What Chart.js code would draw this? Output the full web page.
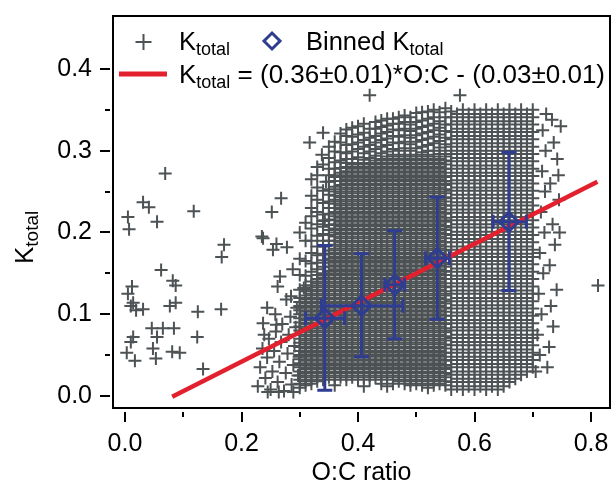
<!DOCTYPE html>
<html>
<head>
<meta charset="utf-8">
<script src="https://cdn.jsdelivr.net/npm/chart.js@4.4.1/dist/chart.umd.min.js"></script>
<style>
  html, body { margin: 0; padding: 0; background: #fff; }
  #wrap { width: 613px; height: 485px; position: relative; }
</style>
</head>
<body>
<div id="wrap"><canvas id="kChart"></canvas></div>
<script>
// dense part of the cloud: O:C column -> K_total values measured there
const ocCols = [.30, .31, .32, .33, .34, .35, .36, .37, .38, .39, .40, .41, .42, .43, .44, .45, .46, .47, .48, .49,
  .50, .51, .52, .53, .54, .55, .56, .57, .58, .59, .60, .61, .62, .63, .64, .65, .66, .67, .68, .69, .70];
const kCols = [
  [.01,.015,.02,.025,.03,.035,.04,.045,.05,.055,.06,.065,.07,.075,.08,.085,.09,.095,.1,.105,.11,.115,.12,.13,.148,.168,.2],
  [.013,.018,.023,.028,.033,.038,.043,.048,.053,.058,.063,.068,.073,.078,.083,.088,.093,.098,.103,.108,.113,.118,.123,.128,.135,.147,.165,.19,.212],
  [.015,.02,.025,.03,.035,.04,.045,.05,.055,.06,.065,.07,.075,.08,.085,.09,.095,.1,.105,.11,.115,.12,.125,.13,.135,.14,.152,.162,.175,.19,.205,.22,.245],
  [.018,.023,.028,.033,.038,.043,.048,.053,.058,.063,.068,.073,.078,.083,.088,.093,.098,.103,.108,.113,.118,.123,.128,.133,.138,.143,.148,.155,.163,.172,.183,.196,.21,.225,.24,.255,.28],
  [.02,.025,.03,.035,.04,.045,.05,.055,.06,.065,.07,.075,.08,.085,.09,.095,.1,.105,.11,.115,.12,.125,.13,.135,.14,.145,.15,.158,.166,.174,.183,.19,.198,.207,.214,.222,.236,.251,.283,.322],
  [.023,.028,.033,.038,.043,.048,.053,.058,.063,.068,.073,.078,.083,.088,.093,.098,.103,.108,.113,.118,.123,.128,.133,.138,.143,.148,.153,.158,.163,.168,.173,.178,.184,.19,.197,.203,.209,.216,.223,.23,.238,.246,.253,.262,.27,.278,.291,.305],
  [.013,.02,.025,.03,.035,.04,.045,.05,.055,.06,.065,.07,.075,.08,.085,.09,.095,.1,.105,.11,.115,.12,.125,.13,.135,.14,.145,.15,.155,.16,.165,.17,.175,.18,.185,.19,.195,.2,.205,.21,.215,.22,.225,.23,.235,.24,.245,.25,.256,.263,.27,.278,.286,.299,.311],
  [.023,.028,.033,.038,.043,.048,.053,.058,.063,.068,.073,.078,.083,.088,.093,.098,.103,.108,.113,.118,.123,.128,.133,.138,.143,.148,.153,.158,.163,.168,.173,.178,.183,.188,.193,.198,.203,.208,.213,.218,.223,.228,.233,.238,.243,.248,.253,.258,.263,.268,.273,.279,.288,.298,.31,.321],
  [.02,.025,.03,.035,.04,.045,.05,.055,.06,.065,.07,.075,.08,.085,.09,.095,.1,.105,.11,.115,.12,.125,.13,.135,.14,.145,.15,.155,.16,.165,.17,.175,.18,.185,.19,.195,.2,.205,.21,.215,.22,.225,.23,.235,.24,.245,.25,.255,.26,.265,.27,.275,.28,.285,.29,.297,.307,.318,.326],
  [.023,.028,.033,.038,.043,.048,.053,.058,.063,.068,.073,.078,.083,.088,.093,.098,.103,.108,.113,.118,.123,.128,.133,.138,.143,.148,.153,.158,.163,.168,.173,.178,.183,.188,.193,.198,.203,.208,.213,.218,.223,.228,.233,.238,.243,.248,.253,.258,.263,.268,.273,.278,.283,.29,.299,.308,.317,.328],
  [.02,.025,.03,.035,.04,.045,.05,.055,.06,.065,.07,.075,.08,.085,.09,.095,.1,.105,.11,.115,.12,.125,.13,.135,.14,.145,.15,.155,.16,.165,.17,.175,.18,.185,.19,.195,.2,.205,.21,.215,.22,.225,.23,.235,.24,.245,.25,.255,.26,.265,.27,.275,.28,.285,.292,.302,.31,.32,.33],
  [.012,.023,.028,.033,.038,.043,.048,.053,.058,.063,.068,.073,.078,.083,.088,.093,.098,.103,.108,.113,.118,.123,.128,.133,.138,.143,.148,.153,.158,.163,.168,.173,.178,.183,.188,.193,.198,.203,.208,.213,.218,.223,.228,.233,.238,.243,.248,.253,.258,.263,.268,.273,.278,.283,.289,.297,.305,.313,.322,.333],
  [.02,.025,.03,.035,.04,.045,.05,.055,.06,.065,.07,.075,.08,.085,.09,.095,.1,.105,.11,.115,.12,.125,.13,.135,.14,.145,.15,.155,.16,.165,.17,.175,.18,.185,.19,.195,.2,.205,.21,.215,.22,.225,.23,.235,.24,.245,.25,.255,.26,.265,.27,.275,.28,.285,.291,.299,.307,.316,.327],
  [.023,.028,.033,.038,.043,.048,.053,.058,.063,.068,.073,.078,.083,.088,.093,.098,.103,.108,.113,.118,.123,.128,.133,.138,.143,.148,.153,.158,.163,.168,.173,.178,.183,.188,.193,.198,.203,.208,.213,.218,.223,.228,.233,.238,.243,.248,.253,.258,.263,.268,.273,.278,.283,.288,.294,.302,.31,.318,.327,.335],
  [.015,.02,.025,.03,.035,.04,.045,.05,.055,.06,.065,.07,.075,.08,.085,.09,.095,.1,.105,.11,.115,.12,.125,.13,.135,.14,.145,.15,.155,.16,.165,.17,.175,.18,.185,.19,.195,.2,.205,.21,.215,.22,.225,.23,.235,.24,.245,.25,.255,.26,.265,.27,.275,.28,.285,.29,.297,.305,.313,.321,.329,.337],
  [.012,.023,.028,.033,.038,.043,.048,.053,.058,.063,.068,.073,.078,.083,.088,.093,.098,.103,.108,.113,.118,.123,.128,.133,.138,.143,.148,.153,.158,.163,.168,.173,.178,.183,.188,.193,.198,.203,.208,.213,.218,.223,.228,.233,.238,.243,.248,.253,.258,.263,.268,.273,.278,.283,.288,.293,.299,.307,.315,.323,.331,.339],
  [.015,.02,.025,.03,.035,.04,.045,.05,.055,.06,.065,.07,.075,.08,.085,.09,.095,.1,.105,.11,.115,.12,.125,.13,.135,.14,.145,.15,.155,.16,.165,.17,.175,.18,.185,.19,.195,.2,.205,.21,.215,.22,.225,.23,.235,.24,.245,.25,.255,.26,.265,.27,.275,.28,.285,.29,.295,.302,.31,.318,.326,.333,.339],
  [.018,.023,.028,.033,.038,.043,.048,.053,.058,.063,.068,.073,.078,.083,.088,.093,.098,.103,.108,.113,.118,.123,.128,.133,.138,.143,.148,.153,.158,.163,.168,.173,.178,.183,.188,.193,.198,.203,.208,.213,.218,.223,.228,.233,.238,.243,.248,.253,.258,.263,.268,.273,.278,.283,.288,.293,.3,.309,.317,.325,.333,.341],
  [.015,.02,.025,.03,.035,.04,.045,.05,.055,.06,.065,.07,.075,.08,.085,.09,.095,.1,.105,.11,.115,.12,.125,.13,.135,.14,.145,.15,.155,.16,.165,.17,.175,.18,.185,.19,.195,.2,.205,.21,.215,.22,.225,.23,.235,.24,.245,.25,.255,.26,.265,.27,.275,.28,.285,.29,.295,.303,.311,.319,.327,.335,.343],
  [.013,.018,.023,.028,.033,.038,.043,.048,.053,.058,.063,.068,.073,.078,.083,.088,.093,.098,.103,.108,.113,.118,.123,.128,.133,.138,.143,.148,.153,.158,.163,.168,.173,.178,.183,.188,.193,.198,.203,.208,.213,.218,.223,.228,.233,.238,.243,.248,.253,.258,.263,.268,.273,.278,.283,.288,.293,.3,.308,.316,.324,.332,.341],
  [.015,.02,.025,.03,.035,.04,.045,.05,.055,.06,.065,.07,.075,.08,.085,.09,.095,.1,.105,.11,.115,.12,.125,.13,.135,.14,.145,.15,.155,.16,.165,.17,.175,.18,.185,.19,.195,.2,.205,.21,.215,.22,.225,.23,.235,.24,.245,.25,.255,.26,.265,.27,.275,.28,.285,.29,.295,.303,.311,.319,.327,.335,.346],
  [.013,.018,.023,.028,.033,.038,.043,.048,.053,.058,.063,.068,.073,.078,.083,.088,.093,.098,.103,.108,.113,.118,.123,.128,.133,.138,.143,.148,.153,.158,.163,.168,.173,.178,.183,.188,.193,.198,.203,.208,.213,.218,.223,.228,.233,.238,.243,.248,.253,.258,.263,.268,.273,.278,.283,.288,.293,.298,.305,.313,.321,.329,.337,.347],
  [.01,.015,.02,.025,.03,.035,.04,.045,.05,.055,.06,.065,.07,.075,.08,.085,.09,.095,.1,.105,.11,.115,.12,.125,.13,.135,.14,.145,.15,.155,.16,.165,.17,.175,.18,.185,.19,.195,.2,.205,.21,.215,.22,.225,.23,.235,.24,.245,.25,.255,.26,.265,.27,.275,.28,.285,.29,.295,.3,.307,.315,.323,.331,.339,.348],
  [.013,.018,.023,.028,.033,.038,.043,.048,.053,.058,.063,.068,.073,.078,.083,.088,.093,.098,.103,.108,.113,.118,.123,.128,.133,.138,.143,.148,.153,.158,.163,.168,.173,.178,.183,.188,.193,.198,.203,.208,.213,.218,.223,.228,.233,.238,.243,.248,.253,.258,.263,.268,.273,.278,.283,.288,.293,.3,.309,.317,.325,.333,.341,.35],
  [.015,.02,.025,.03,.035,.04,.045,.05,.055,.06,.065,.07,.075,.08,.085,.09,.095,.1,.105,.11,.115,.12,.125,.13,.135,.14,.145,.15,.155,.16,.165,.17,.175,.18,.185,.19,.195,.2,.205,.21,.215,.22,.225,.23,.235,.24,.245,.25,.255,.26,.265,.27,.275,.28,.285,.29,.296,.304,.312,.32,.328,.336,.347],
  [.013,.018,.023,.028,.033,.038,.043,.048,.053,.058,.063,.068,.073,.078,.083,.088,.093,.098,.103,.108,.113,.118,.123,.128,.133,.138,.143,.148,.153,.158,.163,.168,.173,.178,.183,.188,.193,.198,.203,.208,.213,.218,.223,.228,.233,.238,.243,.248,.253,.258,.263,.268,.273,.278,.283,.288,.293,.3,.308,.316,.324,.332,.341,.352],
  [.008,.017,.026,.035,.044,.053,.062,.071,.08,.089,.098,.107,.116,.125,.134,.143,.152,.161,.17,.179,.188,.197,.206,.215,.224,.233,.242,.251,.26,.269,.278,.287,.296,.305,.314,.323,.332,.341,.348],
  [.012,.021,.03,.039,.048,.057,.066,.075,.084,.093,.102,.111,.12,.129,.138,.147,.156,.165,.174,.183,.192,.201,.21,.219,.228,.237,.246,.255,.264,.273,.282,.291,.3,.309,.318,.327,.336,.345],
  [.008,.017,.026,.035,.044,.053,.062,.071,.08,.089,.098,.107,.116,.125,.134,.143,.152,.161,.17,.179,.188,.197,.206,.215,.224,.233,.242,.251,.26,.269,.278,.287,.296,.305,.314,.323,.332,.341,.35],
  [.012,.021,.03,.039,.048,.057,.066,.075,.084,.093,.102,.111,.12,.129,.138,.147,.156,.165,.174,.183,.192,.201,.21,.219,.228,.237,.246,.255,.264,.273,.282,.291,.3,.309,.318,.327,.336,.345],
  [.008,.017,.026,.035,.044,.053,.062,.071,.08,.089,.098,.107,.116,.125,.134,.143,.152,.161,.17,.179,.188,.197,.206,.215,.224,.233,.242,.251,.26,.269,.278,.287,.296,.305,.314,.323,.332,.341,.35],
  [.012,.021,.03,.039,.048,.057,.066,.075,.084,.093,.102,.111,.12,.129,.138,.147,.156,.165,.174,.183,.192,.201,.21,.219,.228,.237,.246,.255,.264,.273,.282,.291,.3,.309,.318,.327,.336,.345],
  [.008,.017,.026,.035,.044,.053,.062,.071,.08,.089,.098,.107,.116,.125,.134,.143,.152,.161,.17,.179,.188,.197,.206,.215,.224,.233,.242,.251,.26,.269,.278,.287,.296,.305,.314,.323,.332,.341,.35],
  [.012,.021,.03,.039,.048,.057,.066,.075,.084,.093,.102,.111,.12,.129,.138,.147,.156,.165,.174,.183,.192,.201,.21,.219,.228,.237,.246,.255,.264,.273,.282,.291,.3,.309,.318,.327,.336,.345],
  [.008,.017,.026,.035,.044,.053,.062,.071,.08,.089,.098,.107,.116,.125,.134,.143,.152,.161,.17,.179,.188,.197,.206,.215,.224,.233,.242,.251,.26,.269,.278,.287,.296,.305,.314,.323,.332,.341,.35],
  [.012,.021,.03,.039,.048,.057,.066,.075,.084,.093,.102,.111,.12,.129,.138,.147,.156,.165,.174,.183,.192,.201,.21,.219,.228,.237,.246,.255,.264,.273,.282,.291,.3,.309,.318,.327,.336,.345],
  [.017,.026,.035,.044,.053,.062,.071,.08,.089,.098,.107,.116,.125,.134,.143,.152,.161,.17,.179,.188,.197,.206,.215,.224,.233,.242,.251,.26,.269,.278,.287,.296,.305,.314,.323,.332,.341,.35],
  [.021,.03,.039,.048,.057,.066,.075,.084,.093,.102,.111,.12,.129,.138,.147,.156,.165,.174,.183,.192,.201,.21,.219,.228,.237,.246,.255,.264,.273,.282,.291,.3,.309,.318,.327,.336,.345],
  [.026,.035,.044,.053,.062,.071,.08,.089,.098,.107,.116,.125,.134,.143,.152,.161,.17,.179,.188,.197,.206,.215,.224,.233,.242,.251,.26,.269,.278,.287,.296,.305,.314,.323,.332,.341,.35],
  [.03,.039,.048,.057,.066,.075,.084,.093,.102,.111,.12,.129,.138,.147,.156,.165,.174,.183,.192,.201,.21,.219,.228,.237,.246,.255,.264,.273,.282,.291,.3,.309,.318,.327,.336,.345],
  [.035,.044,.053,.062,.071,.08,.089,.098,.107,.116,.125,.134,.143,.152,.161,.17,.179,.188,.197,.206,.215,.224,.233,.242,.251,.26,.269,.278,.287,.296,.305,.314,.323,.332,.341,.35]
];
// single measurements around the edges of the cloud: [O:C, K_total]
const loosePts = [
  [.005,.219],[.007,.204],[.031,.237],[.041,.231],[.055,.213],[.069,.272],[.118,.226],[.17,.185],[.166,.17],
  [.062,.154],[.082,.141],[.087,.135],[.012,.134],[.005,.125],[.01,.11],[.019,.105],[.031,.106],[.014,.114],
  [.077,.11],[.087,.114],[.125,.103],[.165,.106],[.046,.083],[.065,.083],[.084,.083],[.014,.072],[.055,.072],
  [.124,.072],[.01,.066],[.048,.058],[.003,.053],[.081,.054],[.094,.053],[.017,.043],[.053,.046],[.134,.033],
  [.252,.225],[.268,.242],[.237,.193],[.26,.186],[.278,.182],[.254,.179],[.244,.108],[.237,.089],[.26,.087],
  [.266,.146],[.288,.155],[.262,.134],[.307,.132],[.317,.31],[.338,.295],[.32,.265],[.33,.27],[.345,.262],
  [.36,.268],[.32,.23],[.343,.215],[.235,.195],[.42,.368],[.575,.368],[.812,.135],
  [.228,.012],[.232,.035],[.236,.058],[.241,.022],[.244,.047],[.247,.07],[.25,.008],[.253,.03],[.256,.055],
  [.259,.079],[.262,.017],[.265,.042],[.268,.066],[.27,.088],[.273,.006],[.276,.028],[.279,.052],[.281,.075],
  [.284,.097],[.286,.014],[.289,.038],[.291,.061],[.293,.084],[.295,.108],[.297,.025],[.299,.048],[.277,.118],
  [.285,.122],[.239,.075],[.258,.1],[.289,.005],[.264,.005],[.245,.005],
  [.705,.03],[.712,.05],[.708,.075],[.715,.1],[.71,.125],[.718,.15],[.712,.175],[.72,.2],[.714,.225],
  [.721,.25],[.716,.275],[.722,.3],[.717,.325],[.723,.345],[.728,.06],[.731,.11],[.729,.16],[.734,.21],
  [.73,.26],[.736,.31],[.733,.338],[.741,.13],[.745,.24],[.742,.29],[.748,.33],[.738,.185],[.725,.035],
  [.735,.085],[.746,.2],[.744,.27]
];

// binned means with spread in both directions
const binOC = [0.343, 0.406, 0.463, 0.536, 0.659];
const binK = [0.095, 0.1105, 0.136, 0.1685, 0.213];
const binOCLo = [0.31, 0.337, 0.446, 0.516, 0.632];
const binOCHi = [0.377, 0.477, 0.48, 0.557, 0.689];
const binKLo = [0.007, 0.048, 0.07, 0.094, 0.129];
const binKHi = [0.184, 0.174, 0.202, 0.243, 0.298];

// linear fit  K_total = slope * O:C + intercept
const fitSlope = 0.36;
const fitIntercept = -0.03;
const fitOC = [0.081, 0.811];

const xTicks = [0, 0.2, 0.4, 0.6, 0.8];
const xMinor = [0.1, 0.3, 0.5, 0.7];
const yTicks = [0, 0.1, 0.2, 0.3, 0.4];
const yMinor = [0.05, 0.15, 0.25, 0.35];

const GRAY = '#4d5254';
const BLUE = '#2f3d91';
const RED = '#e3202e';
const FONT = "'Liberation Sans', Arial, Helvetica, sans-serif";

const cloud = [];
ocCols.forEach((oc, i) => kCols[i].forEach(k => cloud.push({ x: oc, y: k })));
loosePts.forEach(p => cloud.push({ x: p[0], y: p[1] }));

const bins = binOC.map((oc, i) => ({ x: oc, y: binK[i] }));
const fitLine = fitOC.map(oc => ({ x: oc, y: fitSlope * oc + fitIntercept }));

// K + subscript "total" followed by optional plain text
function drawKTotal(ctx, x, y, big, small, prefix, rest) {
  ctx.font = big + 'px ' + FONT;
  ctx.fillText(prefix + 'K', x, y);
  x += ctx.measureText(prefix + 'K').width;
  ctx.font = small + 'px ' + FONT;
  ctx.fillText('total', x, y + 5);
  x += ctx.measureText('total').width;
  if (rest) {
    ctx.font = big + 'px ' + FONT;
    ctx.fillText(rest, x, y);
  }
}

const decorations = {
  id: 'decorations',
  afterDatasetsDraw(chart) {
    const ctx = chart.ctx;
    const xs = chart.scales.x, ys = chart.scales.y;
    ctx.save();
    ctx.strokeStyle = BLUE;
    ctx.lineWidth = 3;
    binOC.forEach((oc, i) => {
      const px = xs.getPixelForValue(oc), py = ys.getPixelForValue(binK[i]);
      const top = ys.getPixelForValue(binKHi[i]), bot = ys.getPixelForValue(binKLo[i]);
      const left = xs.getPixelForValue(binOCLo[i]), right = xs.getPixelForValue(binOCHi[i]);
      ctx.beginPath();
      ctx.moveTo(px, top); ctx.lineTo(px, bot);
      ctx.moveTo(px - 7.5, top); ctx.lineTo(px + 7.5, top);
      ctx.moveTo(px - 7.5, bot); ctx.lineTo(px + 7.5, bot);
      ctx.moveTo(left, py); ctx.lineTo(right, py);
      ctx.moveTo(left, py - 7); ctx.lineTo(left, py + 7);
      ctx.moveTo(right, py - 7); ctx.lineTo(right, py + 7);
      ctx.stroke();
    });
    ctx.restore();
  },
  afterDraw(chart) {
    const ctx = chart.ctx;
    const a = chart.chartArea;
    const xs = chart.scales.x, ys = chart.scales.y;
    ctx.save();
    // frame
    ctx.strokeStyle = '#000';
    ctx.lineWidth = 2;
    ctx.strokeRect(a.left, a.top, a.right - a.left, a.bottom - a.top);
    // tick marks, set a little off the frame
    ctx.beginPath();
    xTicks.forEach(v => { const p = Math.round(xs.getPixelForValue(v)); ctx.moveTo(p, a.bottom + 4); ctx.lineTo(p, a.bottom + 14); });
    xMinor.forEach(v => { const p = Math.round(xs.getPixelForValue(v)); ctx.moveTo(p, a.bottom + 4); ctx.lineTo(p, a.bottom + 9); });
    yTicks.forEach(v => { const p = Math.round(ys.getPixelForValue(v)); ctx.moveTo(a.left - 13, p); ctx.lineTo(a.left - 3, p); });
    yMinor.forEach(v => { const p = Math.round(ys.getPixelForValue(v)); ctx.moveTo(a.left - 8, p); ctx.lineTo(a.left - 3, p); });
    ctx.stroke();

    ctx.fillStyle = '#000';
    ctx.textBaseline = 'alphabetic';
    // x title
    ctx.font = '25px ' + FONT;
    ctx.textAlign = 'center';
    ctx.fillText('O:C ratio', (a.left + a.right) / 2, 480);
    // y title, rotated
    ctx.textAlign = 'left';
    ctx.save();
    ctx.translate(33, 264);
    ctx.rotate(-Math.PI / 2);
    drawKTotal(ctx, 0, 0, 26, 19, '', '');
    ctx.restore();

    // legend
    ctx.strokeStyle = GRAY;
    ctx.lineWidth = 2;
    ctx.beginPath();
    ctx.moveTo(135.5, 42); ctx.lineTo(151.5, 42);
    ctx.moveTo(143.5, 34); ctx.lineTo(143.5, 50);
    ctx.stroke();
    drawKTotal(ctx, 179, 50, 25.5, 18, '', '');

    ctx.strokeStyle = BLUE;
    ctx.lineWidth = 3;
    ctx.beginPath();
    ctx.moveTo(272, 33); ctx.lineTo(280, 41); ctx.lineTo(272, 49); ctx.lineTo(264, 41); ctx.closePath();
    ctx.stroke();
    drawKTotal(ctx, 306, 50, 25.5, 18, 'Binned ', '');

    ctx.strokeStyle = RED;
    ctx.lineWidth = 5;
    ctx.beginPath();
    ctx.moveTo(119, 74); ctx.lineTo(167, 74);
    ctx.stroke();
    const fitText = ' = (' + fitSlope.toFixed(2) + '\u00b10.01)*O:C - (' + (-fitIntercept).toFixed(2) + '\u00b10.01)';
    drawKTotal(ctx, 179, 83, 26, 18, '', fitText);
    ctx.restore();
  }
};

// keep the plot box fixed; labels may hang over its edges
function fixX(s) { s.height = 77; s.paddingLeft = 0; s.paddingRight = 0; }
function fixY(s) { s.width = 113; s.paddingTop = 0; s.paddingBottom = 0; }

const ctx = document.getElementById('kChart').getContext('2d');

const chart = new Chart(ctx, {
  type: 'scatter',
  data: {
    datasets: [
      {
        label: 'Binned K_total',
        data: bins,
        pointStyle: 'rectRot',
        pointRadius: 9.5,
        borderWidth: 3,
        borderColor: BLUE,
        backgroundColor: 'rgba(0,0,0,0)',
        order: 1
      },
      {
        label: 'fit',
        data: fitLine,
        showLine: true,
        borderColor: RED,
        borderWidth: 4.5,
        pointRadius: 0,
        order: 2
      },
      {
        label: 'K_total',
        data: cloud,
        pointStyle: 'cross',
        pointRadius: 6.5,
        borderWidth: 2,
        borderColor: GRAY,
        backgroundColor: GRAY,
        order: 3
      }
    ]
  },
  options: {
    responsive: true,
    maintainAspectRatio: false,
    animation: false,
    events: [],
    layout: { autoPadding: false, padding: { top: 16, right: 3, left: 0, bottom: 0 } },
    plugins: { legend: { display: false }, tooltip: { enabled: false } },
    scales: {
      x: {
        type: 'linear',
        min: -0.0206,
        max: 0.8326,
        afterFit: fixX,
        afterBuildTicks: s => { s.ticks = xTicks.map(v => ({ value: v })); },
        grid: { display: false, drawTicks: false },
        border: { display: false },
        ticks: { callback: v => v.toFixed(1), color: '#000', font: { family: FONT, size: 25 }, padding: 21, maxRotation: 0 }
      },
      y: {
        type: 'linear',
        min: -0.0147,
        max: 0.4648,
        afterFit: fixY,
        afterBuildTicks: s => { s.ticks = yTicks.map(v => ({ value: v })); },
        grid: { display: false, drawTicks: false },
        border: { display: false },
        ticks: { callback: v => v.toFixed(1), color: '#000', font: { family: FONT, size: 25 }, padding: 21 }
      }
    }
  },
  plugins: [decorations]
});
</script>
</body>
</html>
